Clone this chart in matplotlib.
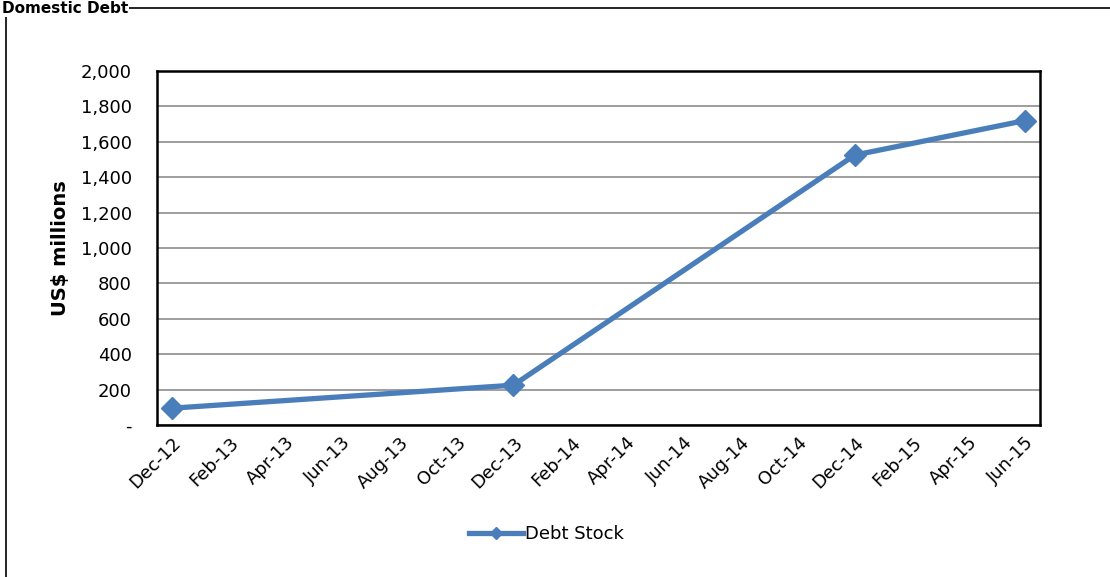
import matplotlib

matplotlib.use("Agg")
import matplotlib.pyplot as plt
import matplotlib.dates as mdates
import matplotlib.ticker as mticker
import pandas as pd
from matplotlib.patches import Rectangle

# data
dates = ["2012-12-01", "2013-12-01", "2014-12-01", "2015-06-01"]
debt_stock = [95, 225, 1525, 1720]
series_name = "Debt Stock"
y_label = "US$ millions"
title = "Domestic Debt"

x = pd.to_datetime(dates)

plt.rcParams["font.family"] = ["DejaVu Sans"]
fig = plt.figure(figsize=(11.10, 5.77), dpi=100)
ax = fig.add_axes([157 / 1110, 1 - 425 / 577, (1040 - 157) / 1110, (425 - 71) / 577])

# outer chart border (runs off the right/bottom edge like the crop)
fig.patches.append(Rectangle((6 / 1110, -0.05), 1.2, 1 - 8 / 577 + 0.05,
                             transform=fig.transFigure, fill=False,
                             edgecolor="black", linewidth=1.2))
fig.text(2 / 1110, 1 - 1 / 577, title, fontsize=11, fontweight="bold",
         ha="left", va="top", zorder=5,
         bbox=dict(facecolor="white", edgecolor="none", pad=0.5))

color = "#4A7EBB"
ax.plot(x, debt_stock, color=color, linewidth=3.8, marker="D", markersize=11,
        label=series_name, zorder=3)

ax.set_ylim(0, 2000)
ax.yaxis.set_major_locator(mticker.MultipleLocator(200))
ax.yaxis.set_major_formatter(
    mticker.FuncFormatter(lambda v, p: "-" if v == 0 else f"{v:,.0f}"))
ax.grid(axis="y", color="#969696", linewidth=1.3)
ax.set_axisbelow(True)

ax.set_xlim(pd.Timestamp("2012-11-15"), pd.Timestamp("2015-06-17"))
ax.xaxis.set_major_locator(mdates.MonthLocator(bymonth=[2, 4, 6, 8, 10, 12]))
ax.xaxis.set_major_formatter(mdates.DateFormatter("%b-%y"))
for lab in ax.get_xticklabels():
    lab.set_rotation(45)
    lab.set_ha("right")
    lab.set_rotation_mode("anchor")

ax.tick_params(axis="both", length=0, labelsize=13, pad=6)
ax.tick_params(axis="y", pad=18)
for s in ax.spines.values():
    s.set_linewidth(1.8)
    s.set_color("black")

ax.set_ylabel(y_label, fontsize=14, fontweight="bold", labelpad=8)

ax.legend(loc="center", bbox_to_anchor=(546 / 1110, 1 - 534 / 577),
          bbox_transform=fig.transFigure, frameon=False, fontsize=13,
          handlelength=3.0, handletextpad=0.1, markerscale=0.6)

fig.savefig("out.png", dpi=100)
